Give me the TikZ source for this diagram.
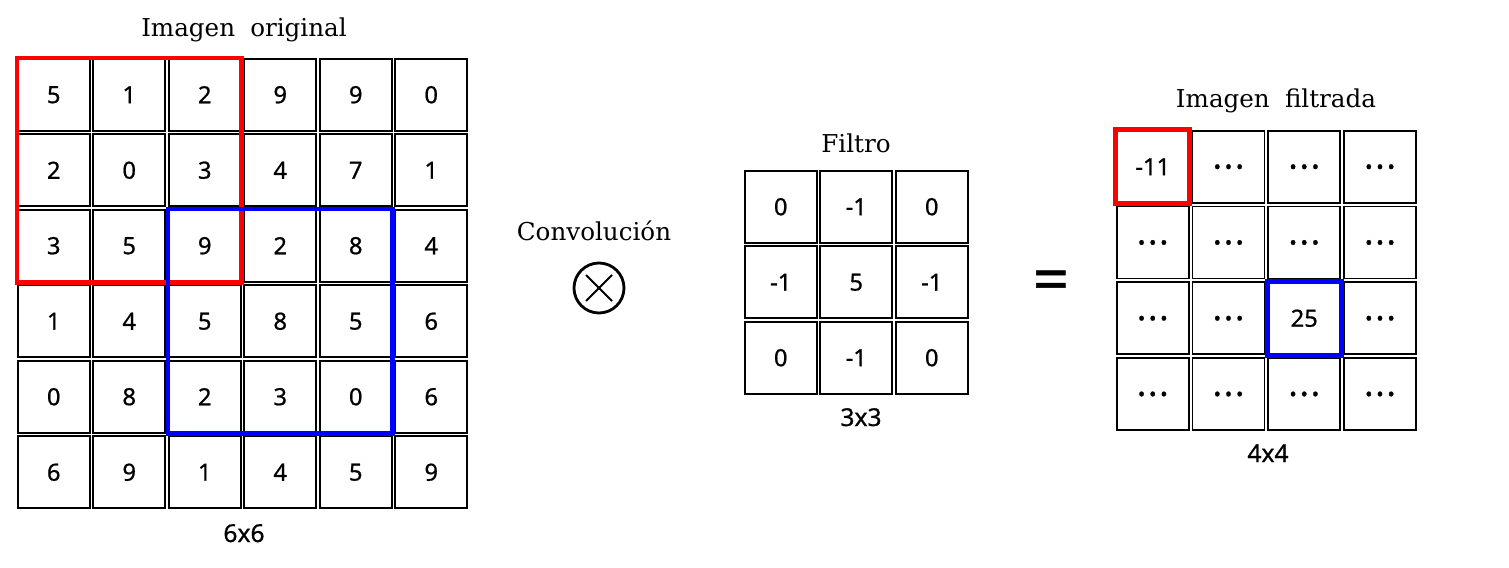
\documentclass[tikz,border=0pt]{standalone}
\usepackage{fontspec}
\setmainfont{DejaVu Serif}
\newfontfamily\numfont[FakeBold=0.8]{Noto Sans}
\usetikzlibrary{positioning}
\newcommand{\dd}{{\fontsize{20}{20}\selectfont.\kern0.05em.\kern0.05em.}}

\begin{document}
\begin{tikzpicture}[x=0.02cm, y=-0.02cm,
    cell/.style={draw, line width=1.1pt, minimum size=1.44cm, inner sep=0pt, font=\numfont\fontsize{13.5}{16}\selectfont},
    title/.style={anchor=base, font=\fontsize{14}{16}\selectfont},
    dims/.style={anchor=base, font=\numfont\fontsize{14}{16}\selectfont}]
    \useasboundingbox (0,0) rectangle (1509,568);

    % imagen original 6x6
    \foreach \row [count=\i from 0] in {{5,1,2,9,9,0},{2,0,3,4,7,1},{3,5,9,2,8,4},{1,4,5,8,5,6},{0,8,2,3,0,6},{6,9,1,4,5,9}}
        \foreach \v [count=\j from 0] in \row
            \node[cell] (a-\i-\j) at (53.75+75.5*\j, 94.75+75.5*\i) {\v};
    \draw[red, line width=2.6pt] (a-0-0.north west) rectangle (a-2-2.south east);
    \draw[blue, line width=2.6pt] (a-2-2.north west) rectangle (a-4-4.south east);
    \node[title] (orig) at (244,36) {Imagen\hspace{0.3em} original};
    \node[dims] (dimA) at (244,542) {6x6};

    % convolucion
    \node[title] (convtxt) at (594,240) {Convolución};
    \node[draw, circle, line width=1.6pt, minimum size=1.0cm, inner sep=0pt] (conv) at (599,288) {};
    \draw[line width=1.2pt] ([shift={(-13,-13)}]conv.center) -- ([shift={(13,13)}]conv.center);
    \draw[line width=1.2pt] ([shift={(-13,13)}]conv.center) -- ([shift={(13,-13)}]conv.center);

    % filtro 3x3
    \foreach \row [count=\i from 0] in {{0,-1,0},{-1,5,-1},{0,-1,0}}
        \foreach \v [count=\j from 0] in \row
            \node[cell] (f-\i-\j) at (780.75+75.5*\j, 206.75+75.5*\i) {\v};
    \node[title] (filt) at (856,152) {Filtro};
    \node[dims] (dimF) at (861,426) {3x3};

    \node[font=\numfont\fontsize{36}{40}\selectfont, inner sep=0pt] (eq) at (1051,286) {=};

    % imagen filtrada 4x4
    \foreach \row [count=\i from 0] in {{-11,\dd,\dd,\dd},{\dd,\dd,\dd,\dd},{\dd,\dd,25,\dd},{\dd,\dd,\dd,\dd}}
        \foreach \v [count=\j from 0] in \row
            \node[cell] (b-\i-\j) at (1152.75+75.75*\j, 166.75+75.75*\i) {\v};
    \draw[red, line width=2.8pt] (b-0-0.north west) rectangle (b-0-0.south east);
    \draw[blue, line width=2.8pt] (b-2-2.north west) rectangle (b-2-2.south east);
    \node[title] (filtr) at (1276,107) {Imagen\hspace{0.3em} filtrada};
    \node[dims] (dimB) at (1268,462) {4x4};
\end{tikzpicture}
\end{document}
